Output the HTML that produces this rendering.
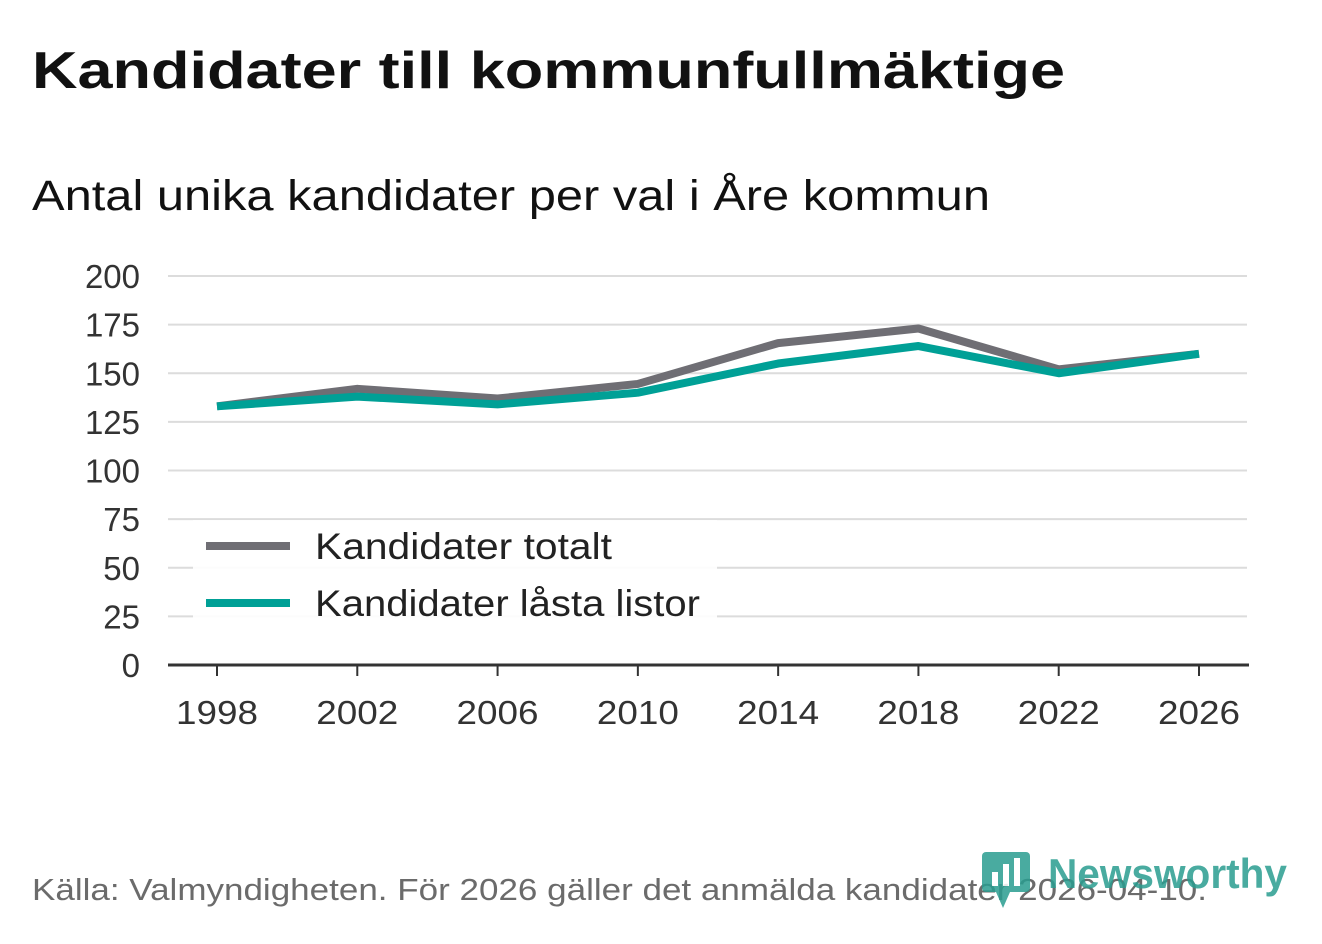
<!DOCTYPE html>
<html><head><meta charset="utf-8"><style>
body{margin:0;width:1322px;height:939px;background:#fff;font-family:"Liberation Sans",sans-serif;overflow:hidden}
</style></head><body>
<svg width="1322" height="939">
<text x="32" y="88" font-size="52" font-weight="bold" fill="#111" textLength="1033" lengthAdjust="spacingAndGlyphs">Kandidater till kommunfullmäktige</text>
<text x="32" y="210" font-size="43" fill="#111" textLength="958" lengthAdjust="spacingAndGlyphs">Antal unika kandidater per val i Åre kommun</text>
<g id="grid"></g>
<g id="yt"></g>
<g id="xt"></g>
<g id="lines"></g>
<g>
<rect x="193" y="520" width="524" height="98" fill="#fff" fill-opacity="0.9"/>
<line x1="206" y1="546" x2="290" y2="546" stroke="#6f6e74" stroke-width="8"/>
<text x="315" y="559" font-size="37" fill="#222" textLength="297" lengthAdjust="spacingAndGlyphs">Kandidater totalt</text>
<line x1="206" y1="603" x2="290" y2="603" stroke="#00a096" stroke-width="8"/>
<text x="315" y="616" font-size="37" fill="#222" textLength="385" lengthAdjust="spacingAndGlyphs">Kandidater låsta listor</text>
</g>
<text x="32" y="900" font-size="31" fill="#6b6b6b" textLength="1175" lengthAdjust="spacingAndGlyphs">Källa: Valmyndigheten. För 2026 gäller det anmälda kandidater 2026-04-10.</text>
<g opacity="0.85">
<rect x="982" y="852" width="48" height="40" rx="4" fill="#2a9d90"/>
<polygon points="996,892 1010,892 1003,908" fill="#2a9d90"/>
<rect x="992" y="872" width="6" height="14" fill="#fff"/><rect x="1003" y="864" width="6" height="22" fill="#fff"/><rect x="1014" y="858" width="6" height="28" fill="#fff"/>
<text x="1048" y="888" font-size="42" font-weight="bold" fill="#2a9d90" textLength="239" lengthAdjust="spacingAndGlyphs">Newsworthy</text>
</g>
</svg>
<script>
const years=[1998,2002,2006,2010,2014,2018,2022,2026];
const totalt=[133,142,137,144.5,165.5,173,152,160];
const lasta=[133,138,134,140,155,164,150,160];
const yTicks=[0,25,50,75,100,125,150,175,200];
const NS="http://www.w3.org/2000/svg";
const x=v=>217+(v-1998)*(1199-217)/28;
const y=v=>665-v*(665-276)/200;
function mk(tag,attrs,parent){const e=document.createElementNS(NS,tag);for(const k in attrs)e.setAttribute(k,attrs[k]);parent.appendChild(e);return e;}
const grid=document.getElementById('grid'),yt=document.getElementById('yt'),xt=document.getElementById('xt'),lines=document.getElementById('lines');
yTicks.forEach(t=>{
 if(t>0){const l=mk('line',{x1:168,x2:1247,y1:y(t),y2:y(t),stroke:'#dcdcdc','stroke-width':2},grid);
 
 }
 const tx=mk('text',{x:140,y:y(t)+12,'font-size':33,'text-anchor':'end',fill:'#333'},yt);tx.textContent=t;
 
 
});
const ax=mk('line',{x1:168,x2:1249,y1:665,y2:665,stroke:'#333','stroke-width':3},xt);


years.forEach(v=>{
 mk('line',{x1:x(v),x2:x(v),y1:665,y2:676,stroke:'#333','stroke-width':2},xt);
 const tx=mk('text',{x:x(v),y:724,'font-size':33,'text-anchor':'middle',fill:'#333',textLength:82,lengthAdjust:'spacingAndGlyphs'},xt);tx.textContent=v;
 
 
});
function line(vals,color,name){
 const p=mk('polyline',{points:vals.map((v,i)=>x(years[i])+','+y(v)).join(' '),fill:'none',stroke:color,'stroke-width':8,'stroke-linejoin':'round'},lines);
 
 
}
line(totalt,'#6f6e74','line-kandidater-totalt');
line(lasta,'#00a096','line-kandidater-lasta-listor');
</script>
</body></html>
